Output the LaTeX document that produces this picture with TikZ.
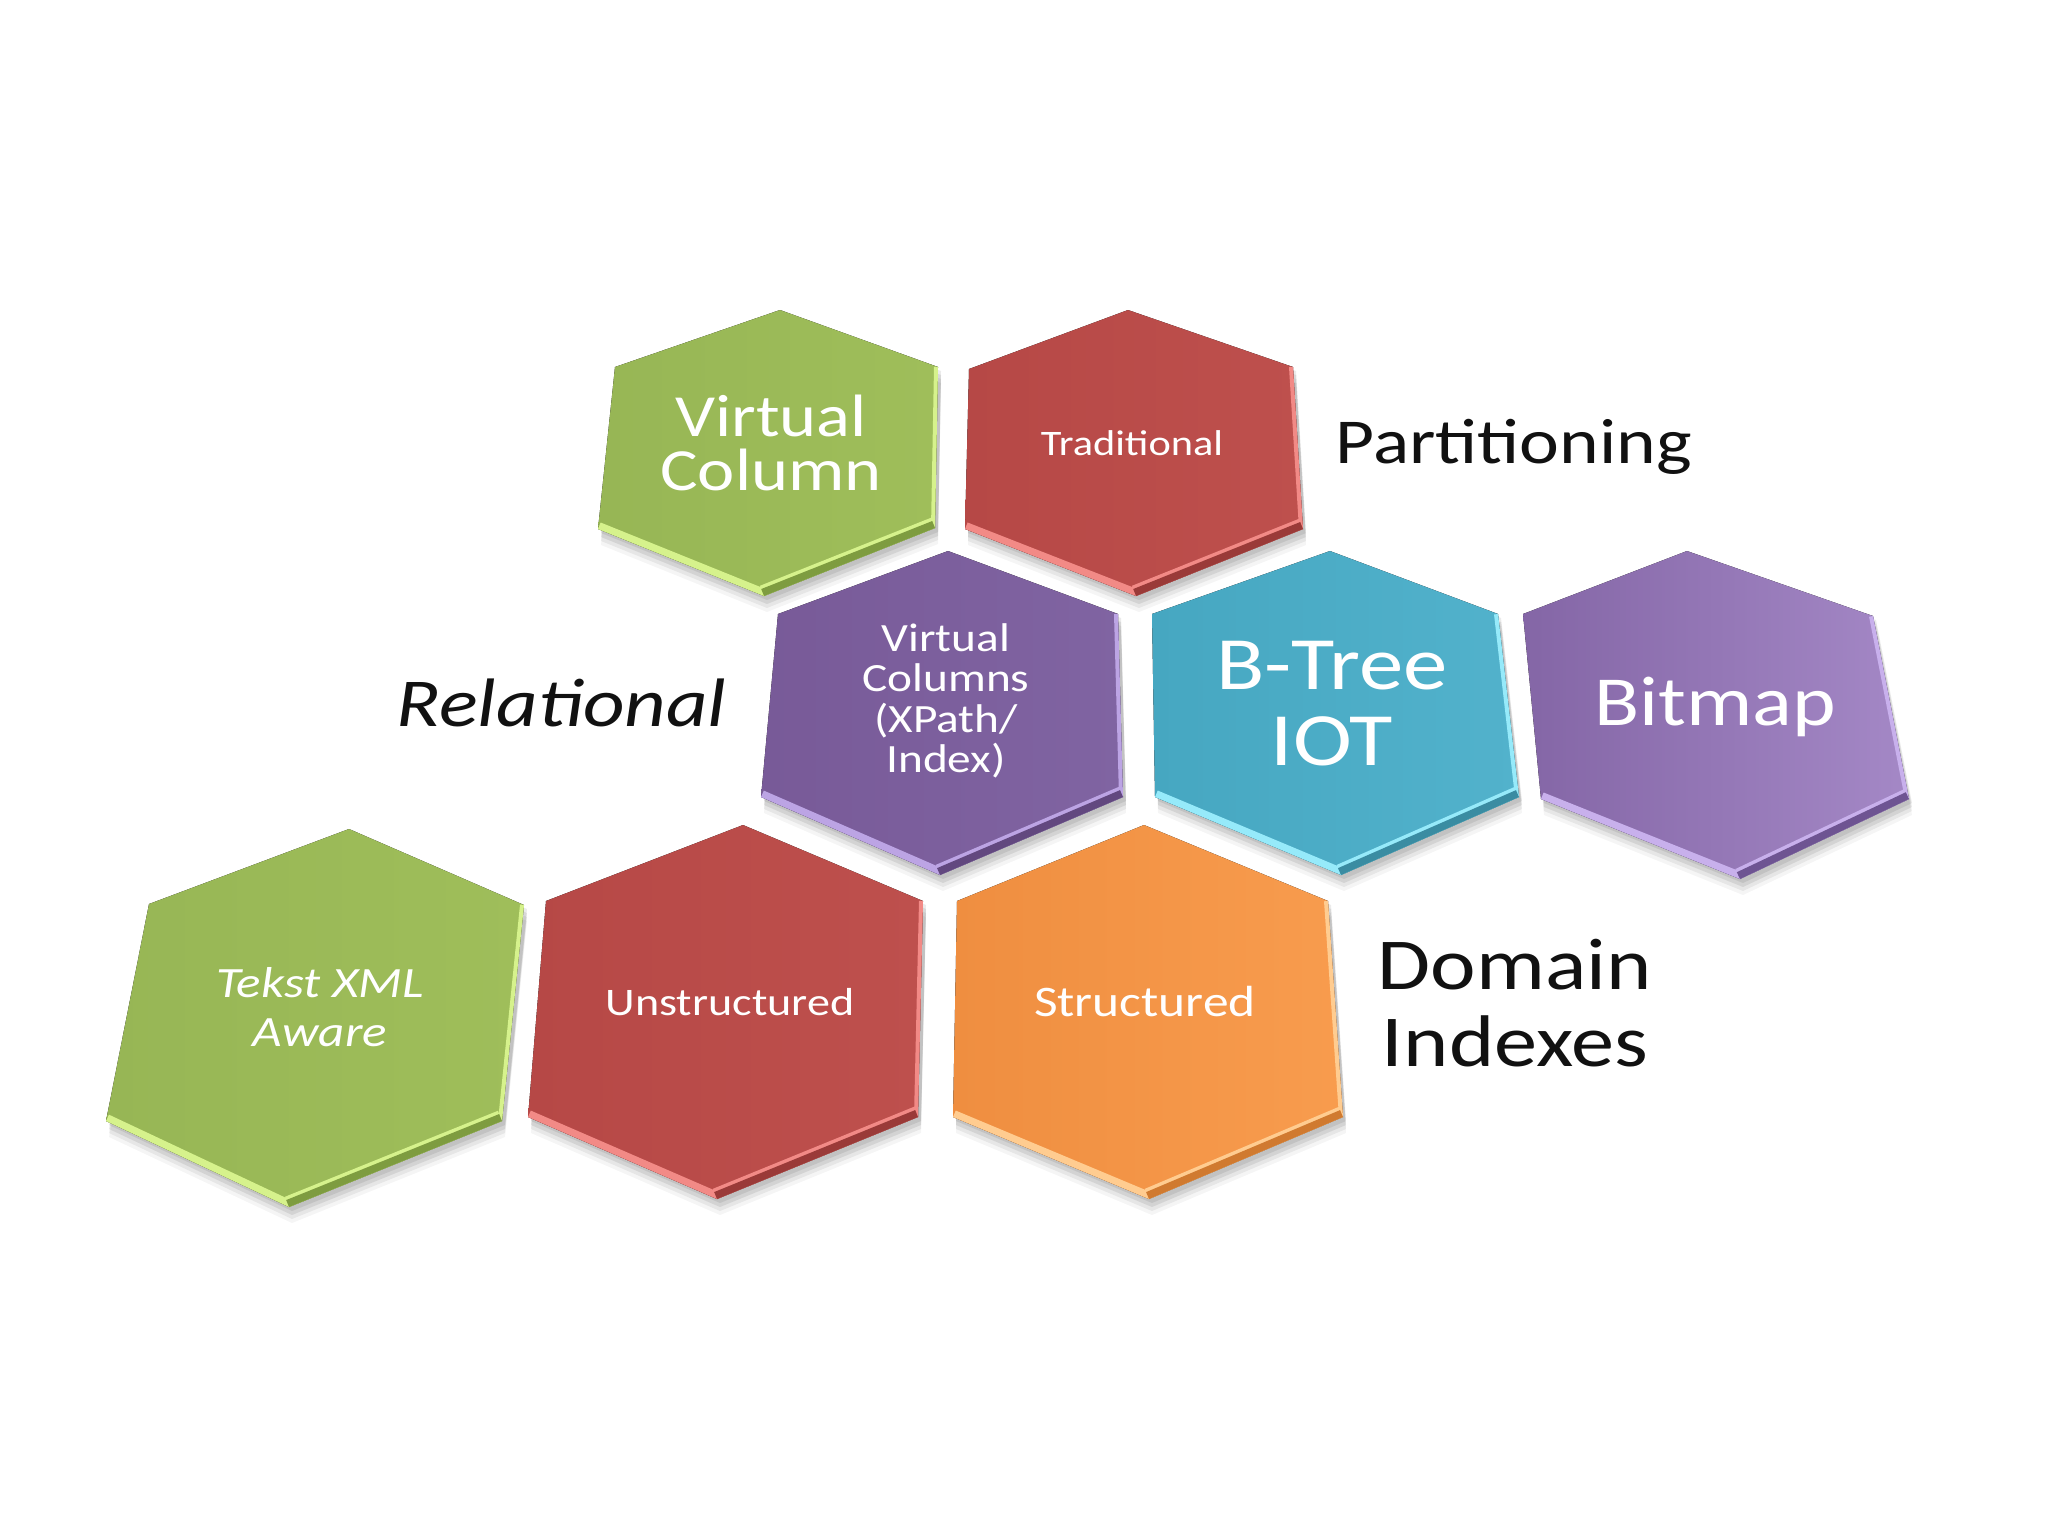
\documentclass[tikz,border=0pt]{standalone}
\usepackage{fontspec}
\setmainfont{Carlito}
\usepackage{graphicx}
\definecolor{gr}{HTML}{97B655}\definecolor{grR}{HTML}{9FBE5A}\definecolor{grL}{HTML}{D6F28C}\definecolor{grD}{HTML}{7E9C40}
\definecolor{rd}{HTML}{B64846}\definecolor{rdR}{HTML}{BE504D}\definecolor{rdL}{HTML}{F28A86}\definecolor{rdD}{HTML}{9A3A38}
\definecolor{pu}{HTML}{785A98}\definecolor{puR}{HTML}{8064A2}\definecolor{puL}{HTML}{BCA4E4}\definecolor{puD}{HTML}{62487F}
\definecolor{te}{HTML}{46A7C1}\definecolor{teR}{HTML}{52B2CC}\definecolor{teL}{HTML}{96EAFA}\definecolor{teD}{HTML}{3A8CA2}
\definecolor{bm}{HTML}{8466A6}\definecolor{bmR}{HTML}{A488C6}\definecolor{bmL}{HTML}{C8B0EC}\definecolor{bmD}{HTML}{6E5492}
\definecolor{or}{HTML}{EF8E40}\definecolor{orR}{HTML}{F89C4E}\definecolor{orL}{HTML}{FFCC90}\definecolor{orD}{HTML}{D07A30}
\definecolor{ink}{HTML}{111111}
\newcommand\wx[1]{\scalebox{1.18}[1]{#1}}
\newcommand\hexa[7]{%
  \foreach \oy/\op in {16/0.04,12/0.06,8/0.08,4/0.08}{%
    \fill[black,opacity=\op,shift={(3,\oy)}] #2--#3--#4--#5--#6--#7--cycle;}
  \fill[left color=#1, right color=#1R] #2--#3--#4--#5--#6--#7--cycle;
  \begin{scope}
    \clip #2--#3--#4--#5--#6--#7--cycle;
    \draw[#1L, line width=0.14cm] #6--#5;
    \draw[#1L, line width=0.08cm] #3--#4;
    \draw[#1L, line width=0.22cm] #5--#4;
    \draw[#1D, line width=0.15cm] #5--#4;
  \end{scope}}
\begin{document}
\begin{tikzpicture}[x=0.01cm,y=-0.01cm,
  htxt/.style={text=white, align=center, inner sep=0pt,
    execute at begin node={\lineskiplimit=-100pt}},
  ltxt/.style={text=ink, align=left, anchor=west, inner sep=0pt,
    execute at begin node={\lineskiplimit=-100pt}}]
\useasboundingbox[fill=white] (0,0) rectangle (2048,1536);

% top row
\hexa{gr}{(780,310)}{(938,367)}{(935,528)}{(764,596)}{(598,529)}{(615,367)}
\hexa{rd}{(1128,310)}{(1293,367)}{(1303,529)}{(1136,596)}{(965,529)}{(969,369)}
% middle row
\hexa{pu}{(948,551)}{(1118,614)}{(1123,797)}{(940,875)}{(761,797)}{(778,614)}
\hexa{te}{(1330,551)}{(1498,614)}{(1519,797)}{(1341,875)}{(1155,797)}{(1152,614)}
\hexa{bm}{(1687,551)}{(1873,616)}{(1909,799)}{(1740,879)}{(1541,799)}{(1523,614)}
% bottom row
\hexa{gr}{(349,829)}{(524,905)}{(502,1121)}{(289,1207)}{(106,1121)}{(149,904)}
\hexa{rd}{(743,825)}{(923,901)}{(918,1117)}{(717,1199)}{(528,1117)}{(546,901)}
\hexa{or}{(1144,825)}{(1328,901)}{(1343,1117)}{(1149,1199)}{(953,1117)}{(957,901)}

% hexagon texts
\node[htxt, font=\fontsize{17}{15.6}\selectfont] (vc) at (771,443) {\wx{Virtual}\\\wx{Column}};
\node[htxt, font=\fontsize{10.2}{12}\selectfont] (trad) at (1132,443) {\wx{Traditional}};
\node[htxt, font=\fontsize{11.4}{11.5}\selectfont] (vcx) at (946,701) {\wx{Virtual}\\\wx{Columns}\\\wx{(XPath/}\\\wx{Index)}};
\node[htxt, font=\fontsize{21.4}{21.6}\selectfont] (bt) at (1332,704) {\wx{B-Tree}\\\wx{IOT}};
\node[htxt, font=\fontsize{20}{22}\selectfont] (bm) at (1715,707) {\wx{Bitmap}};
\node[htxt, font=\fontsize{12.3}{14.1}\selectfont\itshape] (tx) at (320,1007) {\wx{Tekst XML}\\\wx{Aware}};
\node[htxt, font=\fontsize{11.1}{13}\selectfont] (un) at (730,1002) {\wx{Unstructured}};
\node[htxt, font=\fontsize{12.4}{14}\selectfont] (st) at (1145,1002) {\wx{Structured}};

% outside labels
\node[ltxt, font=\fontsize{18.2}{21}\selectfont] (part) at (1335,447) {\wx{Partitioning}};
\node[ltxt, font=\fontsize{19.5}{22}\selectfont\itshape] (rel) at (396,703) {\wx{Relational}};
\node[ltxt, font=\fontsize{20.8}{21.9}\selectfont] (dom) at (1377,1003) {\wx{Domain}\\\hspace*{1.2pt}\wx{Indexes}};
\end{tikzpicture}
\end{document}
